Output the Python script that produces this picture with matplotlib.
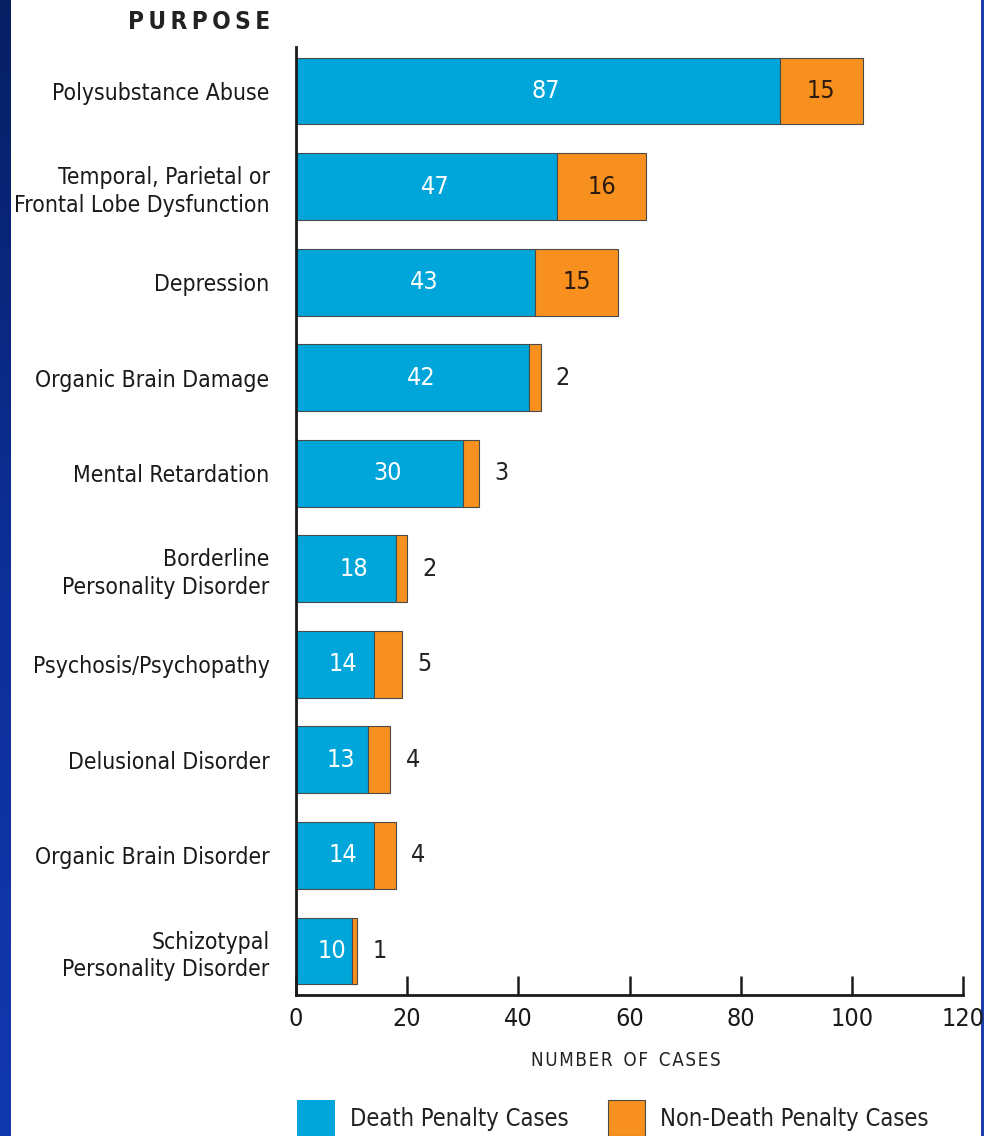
import numpy as np
import matplotlib
matplotlib.use("Agg")
import matplotlib.pyplot as plt
from matplotlib.patches import Rectangle

plt.rcParams['font.family'] = ['DejaVu Sans']
plt.rcParams['font.stretch'] = 'condensed'

# 数据
categories = [
    "Polysubstance Abuse",
    "Temporal, Parietal or\nFrontal Lobe Dysfunction",
    "Depression",
    "Organic Brain Damage",
    "Mental Retardation",
    "Borderline\nPersonality Disorder",
    "Psychosis/Psychopathy",
    "Delusional Disorder",
    "Organic Brain Disorder",
    "Schizotypal\nPersonality Disorder",
]
death_cases = [87, 47, 43, 42, 30, 18, 14, 13, 14, 10]
non_death_cases = [15, 16, 15, 2, 3, 2, 5, 4, 4, 1]
x_ticks = [0, 20, 40, 60, 80, 100, 120]

BLUE = '#00a6d9'
ORANGE = '#f7901e'
EDGE = '#4a4a4a'

fig = plt.figure(figsize=(9.84, 11.36), dpi=100)
fig.patch.set_facecolor('white')

# 左侧深蓝色边条
band = fig.add_axes([0, 0, 11 / 984, 1])
grad = np.linspace(0, 1, 256).reshape(-1, 1)
band.imshow(grad, aspect='auto', cmap=matplotlib.colors.LinearSegmentedColormap.from_list(
    'band', ['#071f63', '#0d2f98', '#1238b0']), extent=[0, 1, 0, 1], origin='upper')
band.axis('off')
# 右侧细蓝线
edge = fig.add_axes([981 / 984, 0, 3 / 984, 1])
edge.set_facecolor('#1c3ea8')
edge.set_xticks([]), edge.set_yticks([])
for s in edge.spines.values():
    s.set_visible(False)

ax = fig.add_axes([296 / 984, 141 / 1136, 667 / 984, 948 / 1136])
y = np.arange(len(categories))
h = 0.70

ax.barh(y, death_cases, height=h, color=BLUE, edgecolor=EDGE, linewidth=0.8)
ax.barh(y, non_death_cases, left=death_cases, height=h, color=ORANGE, edgecolor=EDGE, linewidth=0.8)

# 数值标签
for i, (d, n) in enumerate(zip(death_cases, non_death_cases)):
    ax.text(d / 2 + 1.5, i, str(d), ha='center', va='center', color='white', fontsize=18)
    if n >= 10:
        ax.text(d + n / 2, i, str(n), ha='center', va='center', color='#2a1a10', fontsize=18)
    else:
        ax.annotate(str(n), xy=(d + n, i), xytext=(11, 0), textcoords='offset points',
                    ha='left', va='center', color='#222222', fontsize=18)

ax.set_xlim(0, 120)
ax.set_ylim(len(categories) - 1 + 0.46, -0.46)
ax.set_yticks(y)
ax.set_yticklabels(categories, fontsize=16.5, linespacing=1.25, color='#1a1a1a')
ax.set_xticks(x_ticks)
ax.set_xticklabels([str(t) for t in x_ticks], fontsize=18, color='#1a1a1a')
ax.tick_params(axis='y', length=0, pad=19)
ax.tick_params(axis='x', direction='in', length=14, width=1.8, pad=9, color='#1a1a1a')
for s in ['top', 'right']:
    ax.spines[s].set_visible(False)
for s in ['left', 'bottom']:
    ax.spines[s].set_linewidth(2.0)
    ax.spines[s].set_color('#1a1a1a')

# 标题和坐标轴名称
fig.text(270 / 984, 1 - 22 / 1136, "P\u2009U\u2009R\u2009P\u2009O\u2009S\u2009E", ha='right', va='center',
         fontsize=17.5, fontweight='bold', color='#222222')
fig.text(626 / 984, 1 - 1060 / 1136, "N\u200aU\u200aM\u200aB\u200aE\u200aR  O\u200aF  C\u200aA\u200aS\u200aE\u200aS",
         ha='center', va='center', fontsize=13.5, color='#222222')

# 图例
leg_y = 1 - 1136 / 1136
fig.add_artist(Rectangle((297 / 984, leg_y), 38 / 984, 36 / 1136, transform=fig.transFigure,
                         facecolor=BLUE, edgecolor='none'))
fig.text(350 / 984, 1 - 1119 / 1136, "Death Penalty Cases", ha='left', va='center', fontsize=17, color='#222222')
fig.add_artist(Rectangle((608 / 984, leg_y), 37 / 984, 36 / 1136, transform=fig.transFigure,
                         facecolor=ORANGE, edgecolor=EDGE, linewidth=0.8))
fig.text(660 / 984, 1 - 1119 / 1136, "Non-Death Penalty Cases", ha='left', va='center', fontsize=17, color='#222222')

fig.savefig('out.png', dpi=100)
